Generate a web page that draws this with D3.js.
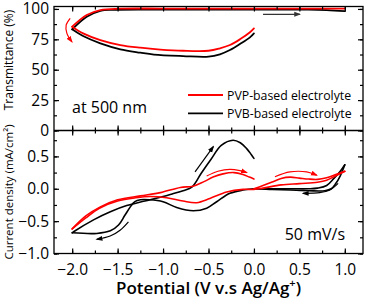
<!DOCTYPE html>
<html><head><meta charset="utf-8">
<script src="https://cdn.jsdelivr.net/npm/d3@7"></script>
<style>body{margin:0;background:#fff}svg{display:block;font-family:"Open Sans",sans-serif}</style>
</head><body><svg id="c" width="365" height="300"></svg>
<script>
// ---------- data (potential V, value) ----------
const transTicks = [0, 25, 50, 75, 100];
const currTicks = [-1.0, -0.5, 0.0, 0.5];
const potTicks = [-2.0, -1.5, -1.0, -0.5, 0.0, 0.5, 1.0];

// Transmittance (%) — PVP (red) & PVB (black)
const pvpTransLower = [[0,84.0],[-0.044,80.8],[-0.154,75.0],[-0.264,70.3],[-0.374,67.6],[-0.5,65.6],[-0.78,65.6],[-1.03,66.6],[-1.25,68.1],[-1.47,70.3],[-1.69,74.4],[-1.88,79.9],[-2.0,85.4]];
const pvpTransUpper = [[-2.0,85.4],[-1.84,95.0],[-1.69,99.1],[-1.47,100.2],[-1.0,100.3],[0,100.3],[0.5,100.3],[1.0,100.2]];
const pvbTransLower = [[0,79.9],[-0.044,76.6],[-0.154,71.1],[-0.264,66.2],[-0.374,62.7],[-0.5,60.7],[-0.78,61.2],[-1.1,62.4],[-1.25,64.0],[-1.47,66.8],[-1.69,71.7],[-1.88,77.7],[-2.0,83.2]];
const pvbTransUpper = [[-2.0,83.2],[-1.84,93.6],[-1.69,98.5],[-1.55,99.3],[-1.0,99.5],[0,99.5],[0.6,99.4],[0.8,99.0],[1.0,98.2]];

// Current density (mA/cm2)
const pvpCvForward = [[0,0.0],[0.1,0.05],[0.21,0.11],[0.3,0.16],[0.4,0.18],[0.5,0.165],[0.6,0.15],[0.7,0.145],[0.8,0.17],[0.9,0.22],[1.0,0.27]];
const pvpCvReverse = [[1.0,0.27],[0.9,0.2],[0.8,0.13],[0.7,0.1],[0.5,0.08],[0.3,0.06],[0.1,0.01],[0,-0.01],[-0.12,-0.01],[-0.3,-0.05],[-0.485,-0.15],[-0.63,-0.215],[-0.78,-0.19],[-0.96,-0.14],[-1.14,-0.12],[-1.3,-0.14],[-1.5,-0.19],[-1.7,-0.3],[-1.85,-0.45],[-2.0,-0.62]];
const pvpCvReturn = [[-2.0,-0.62],[-1.85,-0.42],[-1.69,-0.28],[-1.5,-0.17],[-1.25,-0.11],[-1.03,-0.06],[-0.81,0.02],[-0.67,0.04],[-0.55,0.11],[-0.45,0.18],[-0.34,0.23],[-0.22,0.25],[-0.12,0.22],[-0.05,0.18],[0,0.15]];
const pvbCvForward = [[0,0.0],[0.2,0.0],[0.4,0.0],[0.6,0.0],[0.7,0.01],[0.8,0.05],[0.88,0.16],[0.95,0.27],[1.0,0.37]];
const pvbCvReverse = [[1.0,0.37],[0.95,0.2],[0.9,0.08],[0.85,0.0],[0.78,-0.03],[0.6,-0.03],[0.4,-0.02],[0.2,-0.01],[0,0.0],[-0.12,-0.02],[-0.264,-0.07],[-0.41,-0.2],[-0.52,-0.3],[-0.667,-0.34],[-0.85,-0.29],[-1.0,-0.2],[-1.15,-0.17],[-1.25,-0.17],[-1.31,-0.2],[-1.36,-0.28],[-1.42,-0.41],[-1.49,-0.56],[-1.58,-0.65],[-1.73,-0.69],[-2.0,-0.68]];
const pvbCvReturn = [[-2.0,-0.68],[-1.98,-0.66],[-1.765,-0.48],[-1.58,-0.355],[-1.4,-0.26],[-1.2,-0.19],[-1.0,-0.12],[-0.9,-0.08],[-0.78,-0.03],[-0.68,0.03],[-0.58,0.24],[-0.47,0.46],[-0.36,0.67],[-0.23,0.75],[-0.15,0.71],[-0.08,0.62],[-0.03,0.53],[0,0.47]];

// annotation arrows (data space)
const arrowTransRed = [[-2.022,92.3],[-2.066,86.8],[-2.058,79.9],[-2.003,73.0]];
const arrowTransBlack = [[0.1,95.6],[0.505,95.6]];
const arrowCvBlackLow = [[-1.381,-0.51],[-1.473,-0.64],[-1.582,-0.73],[-1.729,-0.78]];
const arrowCvBlackUp = [[-0.648,0.26],[-0.447,0.65]];
const arrowCvRedMid = [[-0.52,0.196],[-0.396,0.27],[-0.264,0.30],[-0.154,0.28],[-0.08,0.25]];
const arrowCvRedRight = [[0.231,0.185],[0.396,0.26],[0.58,0.26],[0.69,0.21]];
const arrowCvBlackRight = [[0.926,0.083],[0.835,-0.02],[0.725,-0.06],[0.54,-0.07]];

const seriesNames = ["PVP-based electrolyte", "PVB-based electrolyte"];
const seriesColors = ["#ff0000", "#000000"];

// ---------- layout ----------
const svg = d3.select("#c");
const L = 54, R = 363, T1 = 6.5, MID = 130.5, B2 = 253.5;
const x = d3.scaleLinear([-2.2, 1.2], [L, R]);
const yT = d3.scaleLinear([0, 102], [MID, T1]);
const yI = d3.scaleLinear([-1.0, 0.9], [B2, MID]);

const defs = svg.append("defs");
function marker(id, color) {
  defs.append("marker").attr("id", id).attr("viewBox", "0 0 10 10").attr("refX", 8).attr("refY", 5)
    .attr("markerWidth", 7).attr("markerHeight", 7).attr("orient", "auto-start-reverse")
    .attr("markerUnits", "userSpaceOnUse")
    .append("path").attr("d", "M0,1.5L10,5L0,8.5z").attr("fill", color);
}
marker("mr", "#ff0000"); marker("mk", "#000"); marker("mg", "#333");

const lineT = d3.line().x(d => x(d[0])).y(d => yT(d[1])).curve(d3.curveCatmullRom.alpha(0.5));
const lineI = d3.line().x(d => x(d[0])).y(d => yI(d[1])).curve(d3.curveCatmullRom.alpha(0.5));

function draw(gen, data, color, w) {
  svg.append("path").datum(data).attr("d", gen).attr("fill", "none").attr("stroke", color)
    .attr("stroke-width", w).attr("stroke-linejoin", "round").attr("stroke-linecap", "round");
}
draw(lineT, pvbTransLower, "#000", 1.8); draw(lineT, pvbTransUpper, "#000", 1.8);
draw(lineT, pvpTransLower, "#ff0000", 1.8); draw(lineT, pvpTransUpper, "#ff0000", 1.8);
[pvbCvForward, pvbCvReverse, pvbCvReturn].forEach(d => draw(lineI, d, "#000", 1.6));
[pvpCvForward, pvpCvReverse, pvpCvReturn].forEach(d => draw(lineI, d, "#ff0000", 1.6));

function arrow(gen, data, color, mk) {
  svg.append("path").datum(data).attr("d", gen).attr("fill", "none").attr("stroke", color)
    .attr("stroke-width", 1.2).attr("marker-end", `url(#${mk})`);
}
arrow(lineT, arrowTransRed, "#ff0000", "mr");
arrow(lineT, arrowTransBlack, "#333", "mg");
arrow(lineI, arrowCvBlackLow, "#000", "mk");
arrow(lineI, arrowCvBlackUp, "#000", "mk");
arrow(lineI, arrowCvRedMid, "#ff0000", "mr");
arrow(lineI, arrowCvRedRight, "#ff0000", "mr");
arrow(lineI, arrowCvBlackRight, "#000", "mk");

// ---------- axes ----------
const minorX = d3.range(-2.0, 1.01, 0.25);
const minorT = d3.range(0, 101, 12.5);
const minorI = d3.range(-1.0, 0.91, 0.25);
function ax(axis, tx, ty, values, size, labels, pad) {
  const a = axis.tickValues(values).tickSize(size).tickPadding(pad || 4);
  const g = svg.append("g").attr("transform", `translate(${tx},${ty})`).call(a);
  g.select(".domain").remove();
  g.selectAll("line").attr("stroke", "#000").attr("stroke-width", 1.2);
  if (!labels) g.selectAll("text").remove();
  else g.selectAll("text").attr("font-size", 15.5).attr("fill", "#000").attr("font-family", '"Open Sans",sans-serif');
  return g;
}
ax(d3.axisLeft(yT).tickFormat(d3.format("d")), L, 0, transTicks, -5, true, 5);
ax(d3.axisLeft(yT), L, 0, minorT, -3, false);
ax(d3.axisRight(yT), R, 0, transTicks, -5, false);
ax(d3.axisRight(yT), R, 0, minorT, -3, false);
ax(d3.axisTop(x), 0, T1, potTicks, -5, false);
ax(d3.axisTop(x), 0, T1, minorX, -3, false);
ax(d3.axisBottom(x), 0, MID, potTicks, -5, false);
ax(d3.axisBottom(x), 0, MID, minorX, -3, false);
ax(d3.axisLeft(yI).tickFormat(d3.format(".1f")), L, 0, currTicks, -5, true, 5);
ax(d3.axisLeft(yI), L, 0, minorI, -3, false);
ax(d3.axisRight(yI), R, 0, currTicks, -5, false);
ax(d3.axisRight(yI), R, 0, minorI, -3, false);
ax(d3.axisTop(x), 0, MID, potTicks, -5, false);
ax(d3.axisTop(x), 0, MID, minorX, -3, false);
ax(d3.axisBottom(x).tickFormat(d3.format(".1f")), 0, B2, potTicks, -5, true, 10);
ax(d3.axisBottom(x), 0, B2, minorX, -3, false);

svg.append("rect").attr("x", L).attr("y", T1).attr("width", R - L).attr("height", B2 - T1)
  .attr("fill", "none").attr("stroke", "#000").attr("stroke-width", 1.3);
svg.append("line").attr("x1", L).attr("x2", R).attr("y1", MID).attr("y2", MID)
  .attr("stroke", "#000").attr("stroke-width", 1.3);

// ---------- text ----------
svg.append("text").attr("transform", "translate(13,60) rotate(-90)").attr("text-anchor", "middle")
  .attr("font-size", 12).text("Transmittance (%)");
svg.append("text").attr("transform", "translate(13,192) rotate(-90)").attr("text-anchor", "middle")
  .attr("font-size", 11.5).text("Current density (mA/cm²)");
const xt = svg.append("text").attr("x", (L + R) / 2).attr("y", 294).attr("text-anchor", "middle")
  .attr("font-size", 17).attr("font-weight", 600);
xt.append("tspan").text("Potential (V v.s Ag/Ag");
xt.append("tspan").attr("font-size", 11).attr("dy", -7).text("+");
xt.append("tspan").attr("dy", 7).text(")");

svg.append("text").attr("x", 72).attr("y", 113).attr("font-size", 16).text("at 500 nm");
svg.append("text").attr("x", 345).attr("y", 240).attr("text-anchor", "end").attr("font-size", 16).text("50 mV/s");

seriesNames.forEach((n, i) => {
  const yy = 95 + i * 18.3;
  svg.append("line").attr("x1", 188).attr("x2", 223).attr("y1", yy).attr("y2", yy)
    .attr("stroke", seriesColors[i]).attr("stroke-width", 1.8);
  svg.append("text").attr("x", 227).attr("y", yy + 4.5).attr("font-size", 12.3).text(n);
});
</script></body></html>
